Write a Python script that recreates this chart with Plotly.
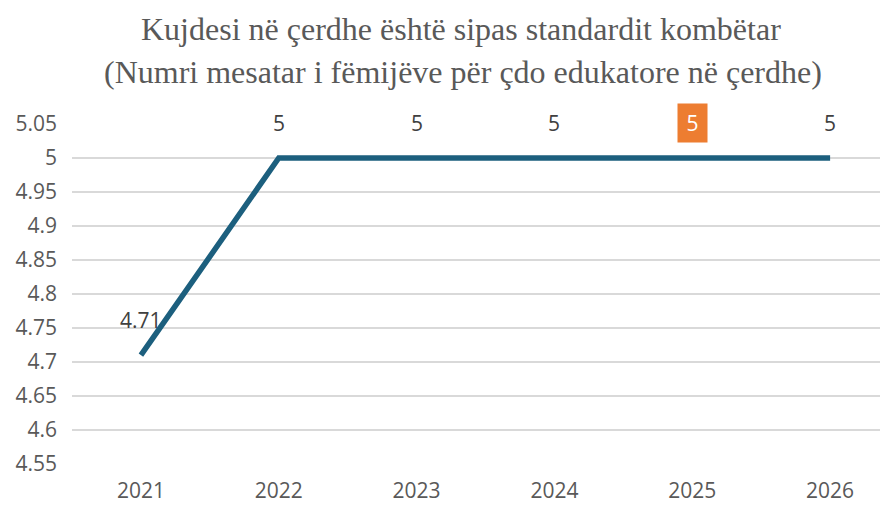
import plotly.graph_objects as go

years = ["2021", "2022", "2023", "2024", "2025", "2026"]
values = [4.71, 5, 5, 5, 5, 5]
labels = ["4.71", "5", "5", "5", "5", "5"]
highlight = [False, False, False, False, True, False]
y_ticks = [4.55, 4.6, 4.65, 4.7, 4.75, 4.8, 4.85, 4.9, 4.95, 5, 5.05]
y_tick_text = ["4.55", "4.6", "4.65", "4.7", "4.75", "4.8", "4.85", "4.9", "4.95", "5", "5.05"]

title_line1 = "Kujdesi në çerdhe është sipas standardit kombëtar"
title_line2 = "(Numri mesatar i fëmijëve për çdo edukatore në çerdhe)"

line_color = "#1C5F7E"
text_color = "#595959"
grid_color = "#D9D9D9"
tick_font = dict(family="Open Sans", size=21, color=text_color)

fig = go.Figure()
fig.add_trace(go.Scatter(
    x=list(range(len(years))), y=values, mode="lines",
    line=dict(color=line_color, width=5.5), hoverinfo="skip", showlegend=False,
))

for i, (v, lab, hl) in enumerate(zip(values, labels, highlight)):
    fig.add_annotation(
        x=i, y=v, xref="x", yref="y", text=lab, showarrow=False,
        yshift=35,
        font=dict(family="Open Sans", size=21, color="white" if hl else "#404040"),
        bgcolor="#ED7D31" if hl else "rgba(0,0,0,0)",
        width=29 if hl else None, height=38 if hl else None,
        borderpad=0,
    )

H_plot = 340
def py(pix):
    return (464 - pix) / H_plot
def px(pix):
    return (pix - 72) / (888 - 72)

fig.add_annotation(x=px(461), y=py(29), xref="paper", yref="paper", text=title_line1,
                   showarrow=False, font=dict(family="Liberation Serif", size=32, color=text_color),
                   xanchor="center", yanchor="middle")
fig.add_annotation(x=px(463), y=py(72), xref="paper", yref="paper", text=title_line2,
                   showarrow=False, font=dict(family="Liberation Serif", size=32, color=text_color),
                   xanchor="center", yanchor="middle")

fig.update_layout(
    width=880, height=500,
    margin=dict(l=64, r=0, t=116, b=44),
    paper_bgcolor="white", plot_bgcolor="white",
    xaxis=dict(
        tickmode="array", tickvals=list(range(len(years))), ticktext=years,
        range=[-0.5, 5.42], showgrid=False, zeroline=False, showline=False,
        tickfont=tick_font, ticks="", ticklabelstandoff=12,
    ),
    yaxis=dict(
        tickmode="array", tickvals=y_ticks, ticktext=y_tick_text,
        range=[4.55, 5.05], showgrid=True, gridcolor=grid_color, gridwidth=1.5,
        zeroline=False, showline=False, ticks="",
        tickfont=tick_font, ticklabelstandoff=14,
    ),
)

fig.write_html("out.html")
